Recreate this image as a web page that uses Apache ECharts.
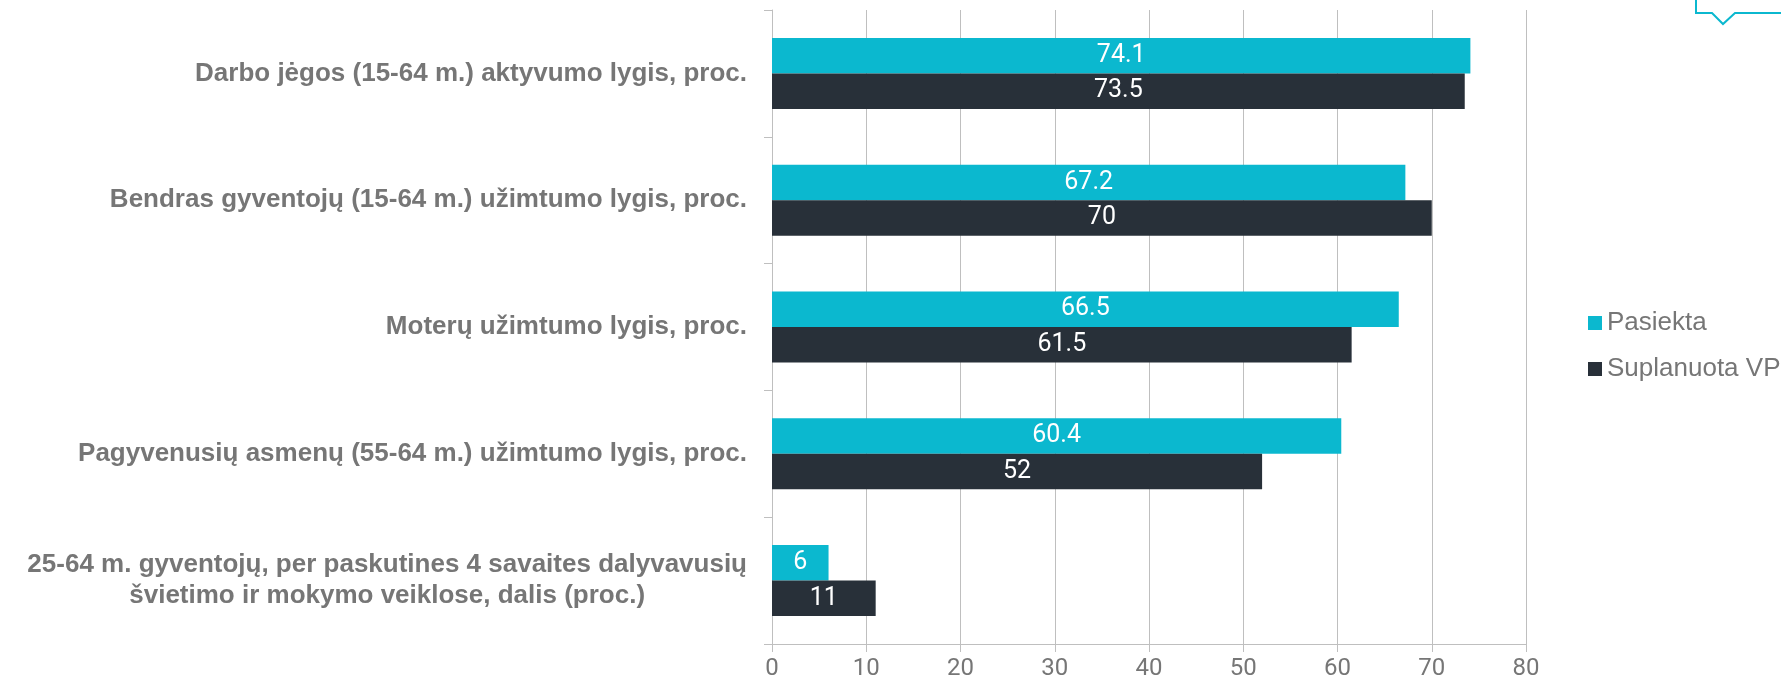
<!DOCTYPE html>
<html>
<head>
<meta charset="utf-8">
<script src="https://cdn.jsdelivr.net/npm/echarts@6/dist/echarts.min.js"></script>
<style>
  html, body { margin: 0; padding: 0; background: #fff; }
  #main { width: 1781px; height: 681px; }
</style>
</head>
<body>
<div id="main"></div>
<script>
const categories = [
  'Darbo jėgos (15-64 m.) aktyvumo lygis, proc.',
  'Bendras gyventojų (15-64 m.) užimtumo lygis, proc.',
  'Moterų užimtumo lygis, proc.',
  'Pagyvenusių asmenų (55-64 m.) užimtumo lygis, proc.',
  '25-64 m. gyventojų, per paskutines 4 savaites dalyvavusių\nšvietimo ir mokymo veiklose, dalis (proc.)'
]
const seriesNames = ['Pasiekta', 'Suplanuota VP']
const pasiekta = [74.1, 67.2, 66.5, 60.4, 6]
const suplanuota = [73.5, 70, 61.5, 52, 11]

const gray = '#767676'
const axisGray = '#bfbfbf'
const sans = '"Liberation Sans", Arial'

const chartDom = document.getElementById('main')
const myChart = echarts.init(chartDom)

const option = {
  animation: false,
  grid: { left: 772, right: 255, top: 10, bottom: 36, containLabel: false },
  legend: {
    orient: 'vertical',
    left: 1583,
    top: 305,
    icon: 'rect',
    itemWidth: 14,
    itemHeight: 14,
    itemGap: 20,
    data: seriesNames,
    textStyle: { color: gray, fontSize: 26, fontFamily: sans }
  },
  xAxis: {
    type: 'value',
    min: 0,
    max: 80,
    interval: 10,
    axisLine: { show: true, lineStyle: { color: axisGray, width: 1 } },
    axisTick: { show: true, length: 8, lineStyle: { color: axisGray } },
    splitLine: { show: true, lineStyle: { color: axisGray, width: 1 } },
    axisLabel: { color: gray, fontSize: 24, fontFamily: 'Roboto', margin: 13 }
  },
  yAxis: {
    type: 'category',
    inverse: true,
    data: categories,
    axisLine: { show: true, lineStyle: { color: axisGray, width: 1 } },
    axisTick: { show: true, length: 8, lineStyle: { color: axisGray } },
    axisLabel: {
      margin: 25,
      formatter: val => val.split('\n').map(s => '{c|' + s + '}').join('\n'),
      rich: {
        c: {
          align: 'center',
          color: gray,
          fontSize: 26,
          fontWeight: 'bold',
          lineHeight: 31,
          fontFamily: sans
        }
      }
    }
  },
  series: [
    {
      name: seriesNames[0],
      type: 'bar',
      data: pasiekta,
      barGap: '0%',
      barCategoryGap: '44%',
      itemStyle: { color: '#0bb8cf' },
      label: { show: true, position: 'inside', color: '#fff', fontSize: 25, fontFamily: 'Roboto' }
    },
    {
      name: seriesNames[1],
      type: 'bar',
      data: suplanuota,
      barGap: '0%',
      barCategoryGap: '44%',
      itemStyle: { color: '#283039' },
      label: { show: true, position: 'inside', color: '#fff', fontSize: 25, fontFamily: 'Roboto' }
    }
  ],
  graphic: [
    {
      type: 'polyline',
      shape: { points: [[1696, 0], [1696, 13], [1712, 13], [1723, 24], [1735, 13], [1781, 13]] },
      style: { stroke: '#0bb8cf', lineWidth: 2, fill: null }
    }
  ]
}

myChart.setOption(option)
</script>
</body>
</html>
